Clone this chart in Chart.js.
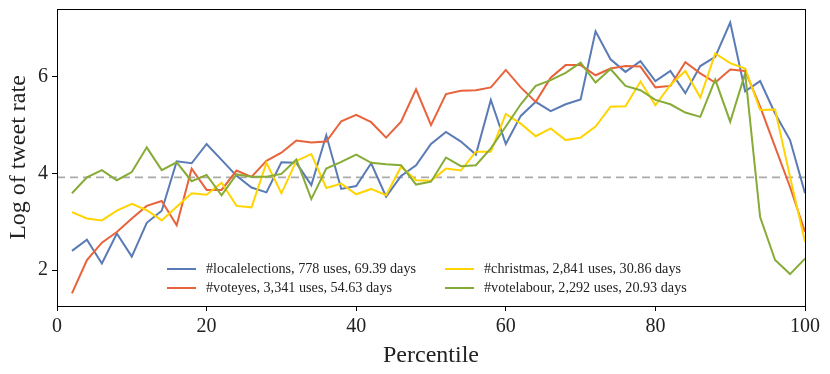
<!DOCTYPE html>
<html>
<head>
<meta charset="utf-8">
<script src="https://cdn.jsdelivr.net/npm/chart.js@4"></script>
<style>
  html, body { margin: 0; padding: 0; background: #fff; }
  #wrap { position: relative; width: 830px; height: 374px; }
  #legend { position: absolute; left: 167px; top: 259px; font-family: "Liberation Serif", serif; font-size: 14.2px; color: #222;
    display: grid; grid-template-columns: 278px 320px; row-gap: 0; }
  .item { display: flex; align-items: center; height: 19px; white-space: nowrap; }
  .sw { display: inline-block; width: 29px; height: 2px; margin-right: 10px; }
</style>
</head>
<body>
<div id="wrap">
  <canvas id="c" width="830" height="374"></canvas>
  <div id="legend"></div>
</div>
<script>
// percentiles on the x axis
const percentiles = [2,4,6,8,10,12,14,16,18,20,22,24,26,28,30,32,34,36,38,40,42,44,46,48,50,
  52,54,56,58,60,62,64,66,68,70,72,74,76,78,80,82,84,86,88,90,92,94,96,98,100];

const localelections = [2.40,2.63,2.14,2.76,2.28,2.98,3.23,4.25,4.21,4.61,4.28,3.95,3.71,3.61,4.23,4.22,3.76,4.79,3.68,3.74,4.21,3.52,3.95,4.17,4.61,
  4.86,4.66,4.39,5.52,4.61,5.19,5.48,5.29,5.43,5.53,6.94,6.36,6.10,6.32,5.91,6.12,5.66,6.22,6.41,7.12,5.70,5.91,5.24,4.69,3.59];
const voteyes = [1.52,2.21,2.57,2.79,3.07,3.33,3.43,2.93,4.10,3.66,3.66,4.06,3.93,4.26,4.43,4.68,4.64,4.66,5.08,5.21,5.06,4.74,5.07,5.74,5.00,
  5.64,5.71,5.72,5.78,6.14,5.78,5.48,5.98,6.24,6.24,6.03,6.17,6.22,6.21,5.78,5.81,6.30,6.07,5.88,6.15,6.12,5.38,4.55,3.72,2.79];
const christmas = [3.20,3.07,3.03,3.23,3.37,3.24,3.03,3.31,3.59,3.56,3.81,3.33,3.30,4.22,3.59,4.26,4.40,3.70,3.79,3.57,3.68,3.55,4.14,3.86,3.85,
  4.10,4.06,4.45,4.45,5.23,5.03,4.77,4.93,4.69,4.74,4.97,5.38,5.39,5.90,5.41,5.83,6.12,5.57,6.48,6.28,6.17,5.31,5.32,3.93,2.59];
const votelabour = [3.59,3.92,4.07,3.86,4.03,4.54,4.07,4.23,3.84,3.97,3.55,3.98,3.93,3.93,3.99,4.29,3.47,4.10,4.24,4.39,4.22,4.19,4.17,3.77,3.83,
  4.33,4.15,4.17,4.52,4.97,5.43,5.81,5.93,6.08,6.29,5.88,6.16,5.81,5.72,5.52,5.43,5.26,5.17,5.94,5.07,6.07,3.10,2.21,1.92,2.24];

const seriesLabels = [
  '#localelections, 778 uses, 69.39 days',
  '#christmas, 2,841 uses, 30.86 days',
  '#voteyes, 3,341 uses, 54.63 days',
  '#votelabour, 2,292 uses, 20.93 days'
];
const baseline = 3.92;
const yTicks = [2, 4, 6];

const COLORS = { blue: '#5A7BB6', red: '#E8633B', yellow: '#FFD400', green: '#86AB36' };
const FONT = '"Liberation Serif", serif';

function pts(arr){ return arr.map((y, i) => ({ x: percentiles[i], y })); }
function line(label, arr, color, order){
  return { label, data: pts(arr), borderColor: color, backgroundColor: color, borderWidth: 2,
    pointRadius: 0, tension: 0, fill: false, order };
}

// frame round the plot area
const framePlugin = {
  id: 'frame',
  afterDraw(chart){
    const a = chart.chartArea, ctx = chart.ctx;
    ctx.save();
    ctx.strokeStyle = '#000'; ctx.lineWidth = 1;
    ctx.strokeRect(a.left + 0.5, a.top + 0.5, a.right - a.left, a.bottom - a.top);
    ctx.restore();
  }
};

new Chart(document.getElementById('c'), {
  type: 'line',
  data: {
    datasets: [
      line(seriesLabels[0], localelections, COLORS.blue, 4),
      line(seriesLabels[2], voteyes, COLORS.red, 3),
      line(seriesLabels[1], christmas, COLORS.yellow, 2),
      line(seriesLabels[3], votelabour, COLORS.green, 1),
      { label: 'baseline', data: [{x: 0, y: baseline}, {x: 100, y: baseline}], borderColor: '#AAAAAA',
        borderWidth: 1.6, borderDash: [8, 5], pointRadius: 0, order: 5 }
    ]
  },
  options: {
    responsive: false,
    animation: false,
    layout: { padding: { top: 9, right: 25, left: 0, bottom: 0 } },
    plugins: { legend: { display: false }, tooltip: { enabled: false } },
    scales: {
      x: {
        type: 'linear', min: 0, max: 100,
        ticks: { stepSize: 20, color: '#222', font: { family: FONT, size: 20 }, padding: 4, maxRotation: 0 },
        grid: { drawOnChartArea: false, drawTicks: true, tickLength: 5, color: '#000' },
        border: { color: '#000' },
        title: { display: true, text: 'Percentile', color: '#222', font: { family: FONT, size: 24 }, padding: { top: 0, bottom: 4 } },
        afterFit(s){ s.height = 68; }
      },
      y: {
        min: 1.26, max: 7.4,
        afterBuildTicks(s){ s.ticks = yTicks.map(v => ({ value: v })); },
        ticks: { color: '#222', font: { family: FONT, size: 20 }, padding: 4 },
        grid: { drawOnChartArea: false, drawTicks: true, tickLength: 5, color: '#000' },
        border: { color: '#000' },
        title: { display: true, text: 'Log of tweet rate', color: '#222', font: { family: FONT, size: 24 }, padding: { top: 4, bottom: 0 } },
        afterFit(s){ s.width = 57; s.paddingTop = 0; s.paddingBottom = 0; }
      }
    }
  },
  plugins: [framePlugin]
});

// legend inside the plot, two columns
const legendItems = [
  [seriesLabels[0], COLORS.blue], [seriesLabels[1], COLORS.yellow],
  [seriesLabels[2], COLORS.red], [seriesLabels[3], COLORS.green]
];
document.getElementById('legend').innerHTML = legendItems.map(([t, c]) =>
  `<div class="item"><span class="sw" style="background:${c}"></span><span>${t}</span></div>`).join('');
</script>
</body>
</html>
